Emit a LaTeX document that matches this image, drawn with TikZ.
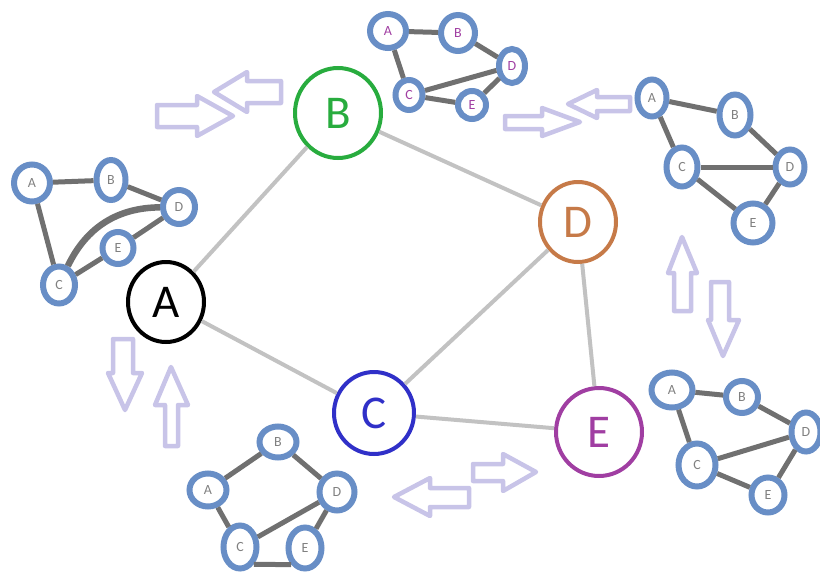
\documentclass[tikz,border=0pt]{standalone}
\usepackage{fontspec}
\setmainfont{Carlito}
\usetikzlibrary{shapes.geometric}
\definecolor{smallblue}{RGB}{104,142,198}
\definecolor{smalledge}{RGB}{112,112,112}
\definecolor{mainedge}{RGB}{194,194,194}
\definecolor{lav}{RGB}{200,196,232}
\definecolor{cgreen}{RGB}{40,172,62}
\definecolor{cblue}{RGB}{48,48,200}
\definecolor{cbrown}{RGB}{198,122,72}
\definecolor{cpurple}{RGB}{160,62,162}
\definecolor{sgray}{RGB}{128,128,128}
\tikzset{
  bignode/.style={ellipse, line width=4pt, inner sep=0pt, font=\fontsize{47}{47}\selectfont},
  bigedge/.style={mainedge, line width=4pt},
  sm/.style={ellipse, draw=smallblue, line width=6pt, inner sep=0pt, text=sgray, font=\fontsize{14}{14}\selectfont},
  smp/.style={sm, text=cpurple},
  smedge/.style={smalledge, line width=5pt},
  blockarrow/.style={draw=lav, fill=white, line width=4.5pt, line join=round},
}
\begin{document}
\begin{tikzpicture}[x=1pt,y=-1pt]
\useasboundingbox (0,0) rectangle (820,576);

% main graph
\node[bignode, draw=cgreen, text=cgreen, minimum width=86pt, minimum height=90pt] (B) at (338,113) {B};
\node[bignode, draw=black, text=black, minimum width=76pt, minimum height=80pt] (A) at (166,302) {A};
\node[bignode, draw=cblue, text=cblue, minimum width=80pt, minimum height=82pt] (C) at (374,413) {C};
\node[bignode, draw=cbrown, text=cbrown, minimum width=76pt, minimum height=80pt] (D) at (578,222) {D};
\node[bignode, draw=cpurple, text=cpurple, minimum width=86pt, minimum height=88pt] (E) at (599,432) {E};
\draw[bigedge] (A) -- (B);
\draw[bigedge] (B) -- (D);
\draw[bigedge] (A) -- (C);
\draw[bigedge] (C) -- (D);
\draw[bigedge] (C) -- (E);
\draw[bigedge] (D) -- (E);

% small graph 1 (left)
\node[sm, minimum width=36pt, minimum height=37pt] (a1) at (32,183) {A};
\node[sm, minimum width=29pt, minimum height=40pt] (b1) at (111,180) {B};
\node[sm, minimum width=32pt, minimum height=34pt] (d1) at (179,207) {D};
\node[sm, minimum width=31pt, minimum height=32pt] (e1) at (118,248) {E};
\node[sm, minimum width=32pt, minimum height=37pt] (c1) at (59,285) {C};
\draw[smedge] (a1) -- (b1);
\draw[smedge] (b1) -- (d1);
\draw[smedge] (a1) -- (c1);
\draw[smedge, line width=6.5pt] (c1) to[bend left=32] (d1);
\draw[smedge] (c1) -- (e1);
\draw[smedge] (e1) -- (d1);

% small graph 2 (top)
\node[smp, minimum width=36pt, minimum height=34pt] (a2) at (388,31) {A};
\node[smp, minimum width=34pt, minimum height=36pt] (b2) at (458,33) {B};
\node[smp, minimum width=26pt, minimum height=34pt] (d2) at (512,66) {D};
\node[smp, minimum width=27pt, minimum height=30pt] (c2) at (409,95) {C};
\node[smp, minimum width=28pt, minimum height=28pt] (e2) at (472,105) {E};
\draw[smedge] (a2) -- (b2);
\draw[smedge] (a2) -- (c2);
\draw[smedge] (b2) -- (d2);
\draw[smedge] (c2) -- (d2);
\draw[smedge] (c2) -- (e2);
\draw[smedge] (d2) -- (e2);

% small graph 3 (top right)
\node[sm, minimum width=29pt, minimum height=37pt] (a3) at (652,98) {A};
\node[sm, minimum width=31pt, minimum height=41pt] (b3) at (735,115) {B};
\node[sm, minimum width=31pt, minimum height=39pt] (c3) at (682,167) {C};
\node[sm, minimum width=29pt, minimum height=35pt] (d3) at (790,167) {D};
\node[sm, minimum width=39pt, minimum height=39pt] (e3) at (753,223) {E};
\draw[smedge] (a3) -- (b3);
\draw[smedge] (a3) -- (c3);
\draw[smedge] (b3) -- (d3);
\draw[smedge] (c3) -- (d3);
\draw[smedge] (c3) -- (e3);
\draw[smedge] (d3) -- (e3);

% small graph 4 (bottom right)
\node[sm, minimum width=41pt, minimum height=35pt] (a4) at (672,390) {A};
\node[sm, minimum width=32pt, minimum height=32pt] (b4) at (742,397) {B};
\node[sm, minimum width=29pt, minimum height=39pt] (d4) at (806,432) {D};
\node[sm, minimum width=37pt, minimum height=43pt] (c4) at (697,465) {C};
\node[sm, minimum width=33pt, minimum height=35pt] (e4) at (768,495) {E};
\draw[smedge] (a4) -- (b4);
\draw[smedge] (b4) -- (d4);
\draw[smedge] (a4) -- (c4);
\draw[smedge] (c4) -- (d4);
\draw[smedge] (c4) -- (e4);
\draw[smedge] (e4) -- (d4);

% small graph 5 (bottom)
\node[sm, minimum width=37pt, minimum height=31pt] (b5) at (278,442) {B};
\node[sm, minimum width=37pt, minimum height=33pt] (a5) at (208,490) {A};
\node[sm, minimum width=35pt, minimum height=37pt] (d5) at (337,492) {D};
\node[sm, minimum width=33pt, minimum height=43pt] (c5) at (240,547) {C};
\node[sm, minimum width=33pt, minimum height=41pt] (e5) at (305,548) {E};
\draw[smedge] (a5) -- (b5);
\draw[smedge] (b5) -- (d5);
\draw[smedge] (a5) -- (c5);
\draw[smedge] (c5) -- (d5);
\draw[smedge] (c5.south east) -- (e5.south west);
\draw[smedge] (e5) -- (d5);

% block arrows near B
\draw[blockarrow] (157,105) -- (197,105) -- (197,96) -- (233,116) -- (197,136) -- (197,127) -- (157,127) -- cycle;
\draw[blockarrow] (281,81) -- (247,81) -- (247,72) -- (214,92) -- (247,112) -- (247,103) -- (281,103) -- cycle;
% block arrows top right
\draw[blockarrow] (505,116) -- (542,116) -- (542,108) -- (580,122) -- (542,136) -- (542,129) -- (505,129) -- cycle;
\draw[blockarrow] (630,97) -- (597,97) -- (597,90) -- (568,104) -- (597,118) -- (597,111) -- (630,111) -- cycle;
% block arrows near A
\draw[blockarrow] (113,339) -- (113,373) -- (108,373) -- (125,410) -- (142,373) -- (133,373) -- (133,339) -- cycle;
\draw[blockarrow] (165,446) -- (165,405) -- (155,405) -- (171,367) -- (188,405) -- (178,405) -- (178,446) -- cycle;
% block arrows bottom
\draw[blockarrow] (469,488) -- (430,488) -- (430,478) -- (394,497) -- (430,516) -- (430,507) -- (469,507) -- cycle;
\draw[blockarrow] (473,464) -- (503,464) -- (503,454) -- (536,472) -- (503,491) -- (503,481) -- (473,481) -- cycle;
% block arrows right
\draw[blockarrow] (674,311) -- (674,273) -- (668,273) -- (682,237) -- (697,273) -- (691,273) -- (691,311) -- cycle;
\draw[blockarrow] (711,282) -- (711,320) -- (708,320) -- (723,356) -- (739,320) -- (729,320) -- (729,282) -- cycle;
\end{tikzpicture}
\end{document}
